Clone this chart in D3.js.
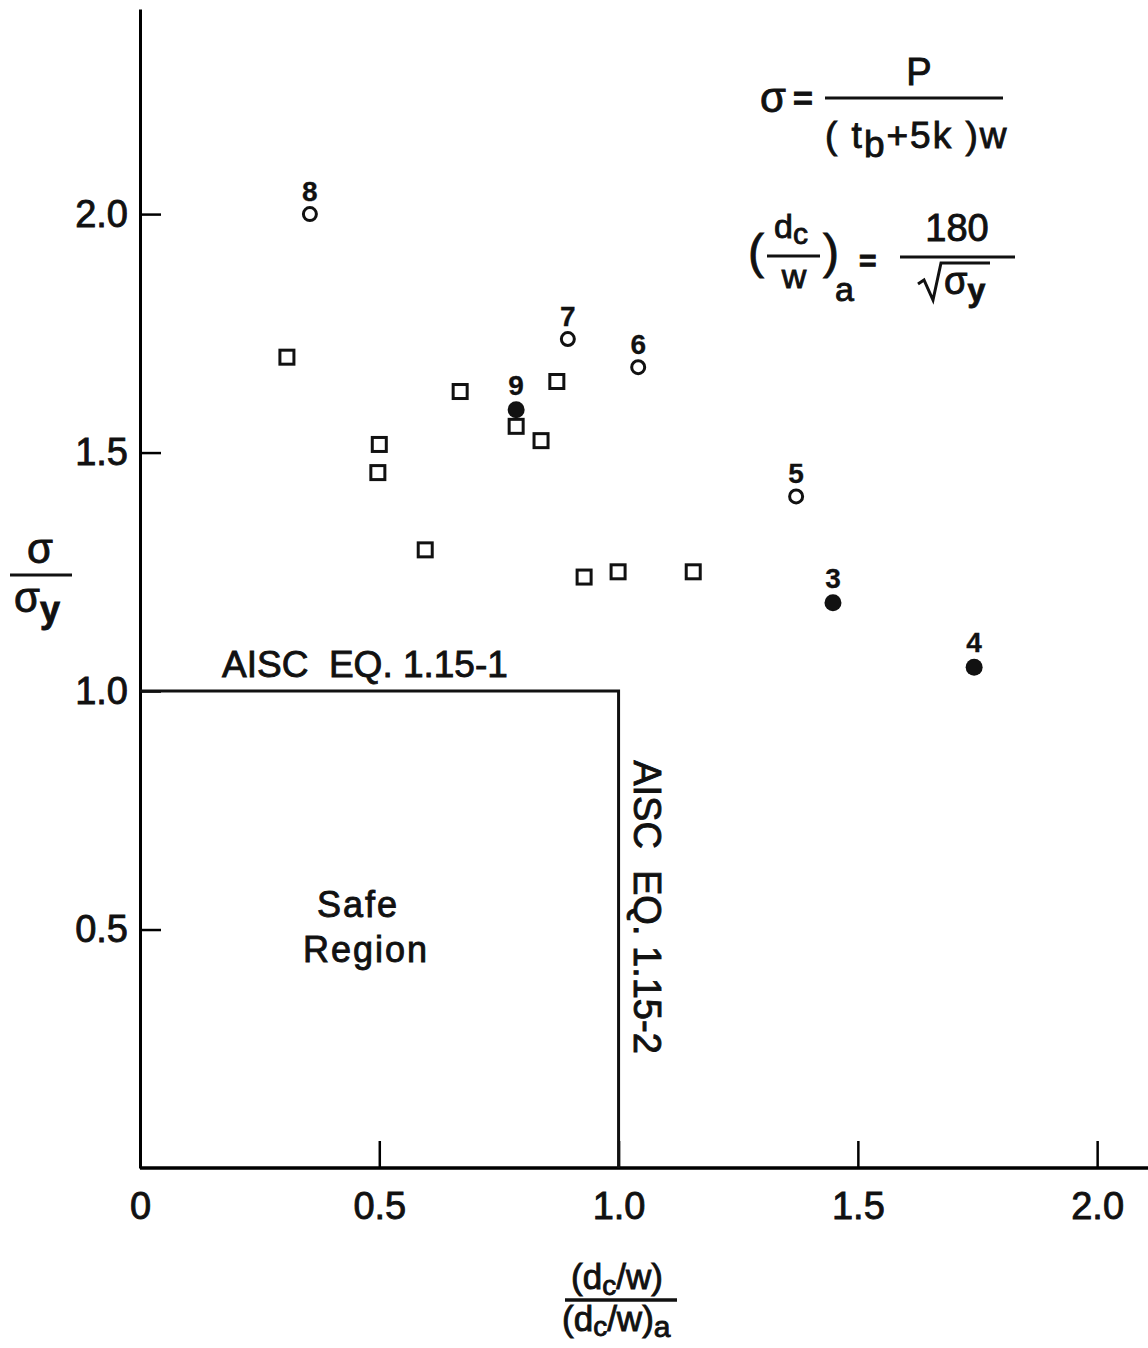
<!DOCTYPE html>
<meta charset="utf-8">
<head>
  <title>Web crippling test results</title>
</head>
<style>
  body { margin: 0; background: #fff; }
  text { font-family: "Liberation Sans", Arial, sans-serif; fill: #111; stroke: #111; stroke-width: 0.9px; }
  text.lab { stroke-width: 0.3px; }
</style>
<svg id="chart" width="1148" height="1348"></svg>

<script src="https://cdn.jsdelivr.net/npm/d3@7"></script>
<script>
// data
var squareX = [0.307, 0.669, 0.500, 0.497, 0.596, 0.786, 0.838, 0.871, 0.928, 0.999, 1.156]
var squareY = [1.700, 1.628, 1.517, 1.458, 1.296, 1.555, 1.525, 1.649, 1.239, 1.250, 1.250]

var openLabels = ["8", "7", "6", "5"]
var openX = [0.355, 0.894, 1.041, 1.371]
var openY = [2.000, 1.738, 1.679, 1.408]

var filledLabels = ["9", "3", "4"]
var filledX = [0.786, 1.448, 1.743]
var filledY = [1.590, 1.185, 1.050]

var xTicks = [0, 0.5, 1.0, 1.5, 2.0]
var yTicks = [0.5, 1.0, 1.5, 2.0]

// safe region boundary (AISC limits)
var limitX = 1.0
var limitY = 1.0

var svg = d3.select("#chart")

var x = d3.scaleLinear().domain([0, 2.1]).range([140, 1145])
var y = d3.scaleLinear().domain([0, 2.43]).range([1168, 9])

var fmt = d => d === 0 ? "0" : d3.format(".1f")(d)

// axes
var yAxis = svg.append("g")
  .attr("transform", "translate(" + x(0) + ",0)")
  .call(d3.axisLeft(y).tickValues(yTicks).tickFormat(fmt)
    .tickSizeInner(-21).tickSizeOuter(0).tickPadding(12))
yAxis.select(".domain").attr("stroke-width", 3)
yAxis.selectAll(".tick line").attr("stroke-width", 2.5)
yAxis.selectAll(".tick text").style("font-size", "38px").attr("fill", "#111")

var xAxis = svg.append("g")
  .attr("transform", "translate(0," + y(0) + ")")
  .call(d3.axisBottom(x).tickValues(xTicks).tickFormat(fmt)
    .tickSizeInner(-27).tickSizeOuter(0).tickPadding(24))
xAxis.select(".domain").attr("stroke-width", 3.5)
  .attr("d", "M" + x(0) + ",0H1148")
xAxis.selectAll(".tick line").attr("stroke-width", 2.5)
  .attr("display", d => d === 0 ? "none" : null)
xAxis.selectAll(".tick text").style("font-size", "38px").attr("fill", "#111")

// safe region lines
svg.append("path")
  .attr("d", d3.line()([[x(0), y(limitY)], [x(limitX), y(limitY)], [x(limitX), y(0)]]))
  .attr("fill", "none").attr("stroke", "#111").attr("stroke-width", 3)

svg.append("text").attr("x", 222).attr("y", 677)
  .style("font-size", "37px").attr("xml:space", "preserve")
  .text("AISC  EQ. 1.15-1")

svg.append("text")
  .attr("transform", "translate(634," + 907 + ") rotate(90)")
  .attr("text-anchor", "middle")
  .style("font-size", "38px").attr("xml:space", "preserve")
  .text("AISC  EQ. 1.15-2")

svg.append("text").attr("x", 358).attr("y", 917).attr("text-anchor", "middle")
  .style("font-size", "36px").style("letter-spacing", "2px").text("Safe")
svg.append("text").attr("x", 366).attr("y", 962).attr("text-anchor", "middle")
  .style("font-size", "36px").style("letter-spacing", "2px").text("Region")

// points
svg.selectAll("rect.sq").data(squareX).join("rect")
  .attr("class", "sq")
  .attr("x", (d, i) => x(d) - 7)
  .attr("y", (d, i) => y(squareY[i]) - 7)
  .attr("width", 14).attr("height", 14)
  .attr("fill", "none").attr("stroke", "#111").attr("stroke-width", 3)

svg.selectAll("circle.open").data(openX).join("circle")
  .attr("class", "open")
  .attr("cx", d => x(d))
  .attr("cy", (d, i) => y(openY[i]))
  .attr("r", 6.5)
  .attr("fill", "none").attr("stroke", "#111").attr("stroke-width", 3)

svg.selectAll("circle.filled").data(filledX).join("circle")
  .attr("class", "filled")
  .attr("cx", d => x(d))
  .attr("cy", (d, i) => y(filledY[i]))
  .attr("r", 8.5)
  .attr("fill", "#111")

svg.selectAll("text.olab").data(openLabels).join("text")
  .attr("class", "olab lab")
  .attr("x", (d, i) => x(openX[i]))
  .attr("y", (d, i) => y(openY[i]) - 13)
  .attr("text-anchor", "middle")
  .style("font-size", "28px").style("font-weight", "bold")
  .text(d => d)

svg.selectAll("text.flab").data(filledLabels).join("text")
  .attr("class", "flab lab")
  .attr("x", (d, i) => x(filledX[i]))
  .attr("y", (d, i) => y(filledY[i]) - 15)
  .attr("text-anchor", "middle")
  .style("font-size", "28px").style("font-weight", "bold")
  .text(d => d)

// y axis label: sigma / sigma_y
var yl = svg.append("g")
yl.append("text").attr("x", 40).attr("y", 563).attr("text-anchor", "middle")
  .style("font-size", "42px").text("σ")
yl.append("line").attr("x1", 10).attr("x2", 72).attr("y1", 575).attr("y2", 575)
  .attr("stroke", "#111").attr("stroke-width", 3)
var yl2 = yl.append("text").attr("x", 14).attr("y", 612).style("font-size", "42px")
yl2.append("tspan").text("σ")
yl2.append("tspan").attr("dy", 10).style("font-size", "36px").style("font-weight", "bold").text("y")

// x axis label
var xl = svg.append("g")
var xn = xl.append("text").attr("x", 617).attr("y", 1289).attr("text-anchor", "middle")
  .style("font-size", "35px")
xn.append("tspan").text("(d")
xn.append("tspan").attr("dy", 6).style("font-size", "28px").text("c")
xn.append("tspan").attr("dy", -6).text("/w)")
xl.append("line").attr("x1", 565).attr("x2", 677).attr("y1", 1300).attr("y2", 1300)
  .attr("stroke", "#111").attr("stroke-width", 3.5)
var xd = xl.append("text").attr("x", 562).attr("y", 1331)
  .style("font-size", "35px")
xd.append("tspan").text("(d")
xd.append("tspan").attr("dy", 5).style("font-size", "28px").text("c")
xd.append("tspan").attr("dy", -5).text("/w)")
xd.append("tspan").attr("dy", 6).style("font-size", "30px").text("a")

// formula block, top right
var f = svg.append("g")
f.append("text").attr("x", 760).attr("y", 112).style("font-size", "42px").text("σ")
f.append("text").attr("x", 793).attr("y", 110).style("font-size", "34px").style("font-weight", "bold").text("=")
f.append("line").attr("x1", 825).attr("x2", 1003).attr("y1", 98).attr("y2", 98)
  .attr("stroke", "#111").attr("stroke-width", 3)
f.append("text").attr("x", 919).attr("y", 85).attr("text-anchor", "middle")
  .style("font-size", "38px").text("P")
var den = f.append("text").attr("x", 825).attr("y", 148).style("font-size", "37px")
  .style("letter-spacing", "2px").attr("xml:space", "preserve")
den.append("tspan").text("( t")
den.append("tspan").attr("dy", 9).text("b")
den.append("tspan").attr("dy", -9).text("+5k )w")

f.append("text").attr("x", 748).attr("y", 268).style("font-size", "48px").text("(")
f.append("text").attr("x", 791).attr("y", 238).attr("text-anchor", "middle")
  .style("font-size", "34px").html("d<tspan dy='6' font-size='30'>c</tspan>")
f.append("line").attr("x1", 767).attr("x2", 820).attr("y1", 256).attr("y2", 256)
  .attr("stroke", "#111").attr("stroke-width", 3)
f.append("text").attr("x", 794).attr("y", 288).attr("text-anchor", "middle")
  .style("font-size", "34px").text("w")
f.append("text").attr("x", 823).attr("y", 268).style("font-size", "48px").text(")")
f.append("text").attr("x", 835).attr("y", 301).style("font-size", "34px").text("a")
f.append("text").attr("x", 859).attr("y", 271).style("font-size", "30px").style("font-weight", "bold").text("=")
f.append("line").attr("x1", 900).attr("x2", 1015).attr("y1", 257).attr("y2", 257)
  .attr("stroke", "#111").attr("stroke-width", 3)
f.append("text").attr("x", 957).attr("y", 241).attr("text-anchor", "middle")
  .style("font-size", "38px").text("180")
// radical sign
f.append("path")
  .attr("d", "M918,284 L924,280 L933,300 L941,263 L990,263")
  .attr("fill", "none").attr("stroke", "#111").attr("stroke-width", 3)
var sq = f.append("text").attr("x", 944).attr("y", 294).style("font-size", "38px")
sq.append("tspan").text("σ")
sq.append("tspan").attr("dy", 7).style("font-size", "32px").style("font-weight", "bold").text("y")
</script>
